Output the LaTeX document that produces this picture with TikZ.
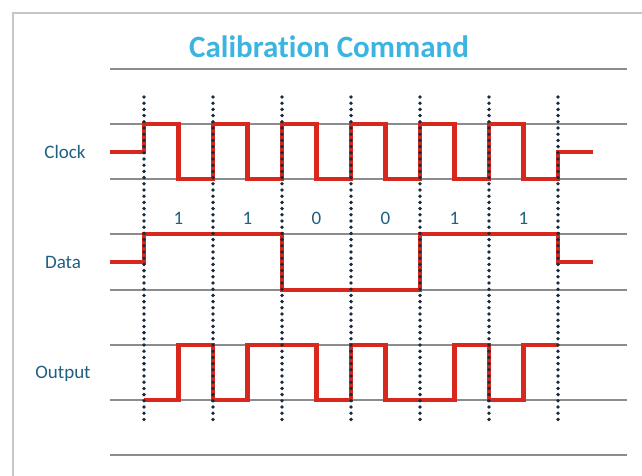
\documentclass[tikz,border=0pt]{standalone}
\usepackage{fontspec}
\setmainfont{Carlito}
\newfontfamily\titlefont[Ligatures=NoCommon]{Carlito}
\definecolor{titleblue}{HTML}{3BB4E0}
\definecolor{labelblue}{HTML}{1F5F80}
\definecolor{sigred}{HTML}{D8281E}
\definecolor{dotnavy}{HTML}{1A2B3C}
\definecolor{rulegray}{HTML}{8C8C8C}
\begin{document}
\begin{tikzpicture}[x=0.5pt,y=-0.5pt,
  rule/.style={rulegray, line width=0.6pt},
  wave/.style={sigred, line width=2.1pt},
  tick/.style={dotnavy, line width=1.9pt, line cap=round, dash pattern=on 0pt off 3.1pt},
  sig/.style={labelblue, font=\fontsize{9.5}{11}\selectfont}]
\useasboundingbox (0,0) rectangle (642,476);
% sheet border
\draw[gray!45, line width=1pt] (13,476) -- (13,13) -- (642,13);
\node[titleblue, font=\titlefont\fontsize{15.5}{18}\selectfont\bfseries] (title) at (329,47) {Calibration Command};
\draw[rule] (110,69) -- (627,69);
\foreach \y in {124,179,234,290,345,400}{\draw[rule] (110,\y) -- (627,\y);}
\draw[rule, line width=0.9pt] (110,455) -- (627,455);
% labels
\node[sig] (clock) at (65,152) {Clock};
\node[sig] (data) at (63,262) {Data};
\node[sig] (output) at (63,374) {Output};
\foreach \b [count=\i from 0] in {1,1,0,0,1,1}{\node[sig] (bit\i) at (178.5+69*\i,218) {\b};}
% signals
\draw[wave] (110,152) -- (144,152) foreach \i in {0,...,5}{ -- (144+69*\i,124) -- (178.5+69*\i,124) -- (178.5+69*\i,179) -- (213+69*\i,179)} -- (558,152) -- (593,152);
\draw[wave] (110,262) -- (144,262) -- (144,234) -- (282,234) -- (282,290) -- (420,290) -- (420,234) -- (558,234) -- (558,262) -- (593,262);
\draw[wave] (144,400) -- (178.5,400) -- (178.5,345) -- (213,345) -- (213,400) -- (247.5,400) -- (247.5,345) -- (316.5,345) -- (316.5,400) -- (351,400) -- (351,345) -- (385.5,345) -- (385.5,400) -- (454.5,400) -- (454.5,345) -- (489,345) -- (489,400) -- (523.5,400) -- (523.5,345) -- (558,345);
% clock edges
\foreach \i in {0,...,6}{\draw[tick] (144+69*\i,97) -- (144+69*\i,421);}
\end{tikzpicture}
\end{document}
